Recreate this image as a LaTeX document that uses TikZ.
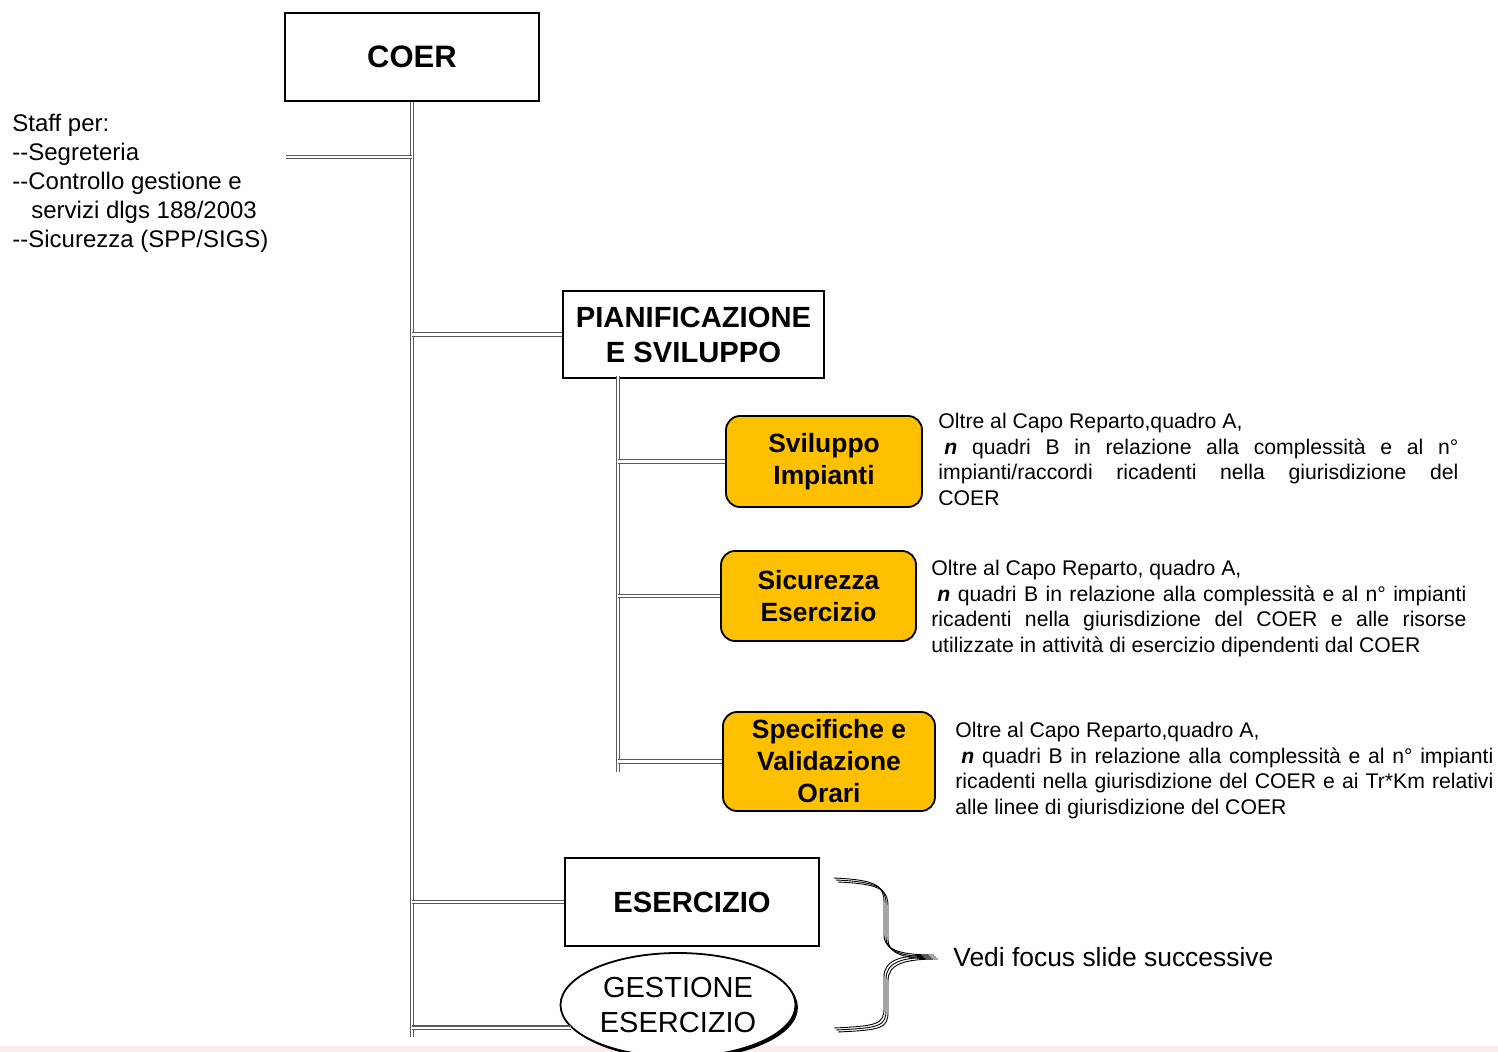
\documentclass[tikz,border=0pt]{standalone}
\usepackage{fontspec}
\setmainfont{Liberation Sans}[Ligatures=TeXOff]
\usetikzlibrary{shapes.geometric}
\usetikzlibrary{shadows}
\usepackage{xcolor}
\definecolor{cellyellow}{HTML}{FFC000}
\definecolor{stripbg}{RGB}{251,236,236}
\newcommand{\nq}{\textbf{\textit{n}}}
\newcommand{\loosepar}{\tolerance=10000\relax\hyphenpenalty=10000\relax}

\begin{document}
\begin{tikzpicture}[x=0.5pt,y=-0.5pt,
  dept/.style={draw,line width=0.9pt,inner sep=0pt,align=center,font=\bfseries\fontsize{14.6}{17.5}\selectfont},
  cell/.style={draw,line width=0.9pt,fill=cellyellow,rounded corners=7pt,inner sep=0pt,align=center,font=\bfseries\fontsize{13.2}{16}\selectfont},
  twin/.style={draw=black!65,double=white,double distance=1.1pt,line width=0.6pt},
  note/.style={anchor=north west,inner sep=0pt,align=justify,font=\fontsize{10.6}{12.75}\selectfont\loosepar}]
    \useasboundingbox (0,0) rectangle (1498,1052);
    \fill[stripbg] (0,1046) rectangle (1498,1052);

    \node[dept,minimum width=127pt,minimum height=44pt,font=\bfseries\fontsize{15.5}{18}\selectfont] (coer) at (412,57) {COER};
    \node[dept,minimum width=130.5pt,minimum height=43.5pt] (pianif) at (693.5,334.5) {PIANIFICAZIONE\\E SVILUPPO};
    \node[cell,minimum width=98pt,minimum height=45.5pt] (svil) at (824,461.5) {Sviluppo\\Impianti};
    \node[cell,minimum width=97.5pt,minimum height=45pt] (sicur) at (818.5,596) {Sicurezza\\Esercizio};
    \node[cell,minimum width=106pt,minimum height=49.5pt] (specif) at (829,761.5) {Specifiche e\\Validazione\\Orari};
    \node[dept,minimum width=127pt,minimum height=44pt] (eserc) at (692,902) {ESERCIZIO};
    \node[ellipse,draw,line width=0.9pt,fill=white,minimum width=117.5pt,minimum height=52pt,inner sep=0pt,align=center,
      font=\fontsize{14.5}{17.5}\selectfont,drop shadow={shadow xshift=1.2pt,shadow yshift=-1.2pt,fill=black,opacity=1}] (gest) at (678,1005) {GESTIONE\\ESERCIZIO};

    \node[anchor=north west,inner sep=0pt,align=left,font=\fontsize{12}{14.5}\selectfont] (staff) at (12,114)
      {Staff per:\\--Segreteria\\--Controllo gestione e\\\hspace*{9.5pt}servizi dlgs 188/2003\\--Sicurezza (SPP/SIGS)};

    \node[note,text width=260pt] (note1) at (938,413) {Oltre al Capo Reparto,quadro A,\\
      \hspace*{3pt}\nq{} quadri B in relazione alla complessità e al n°\linebreak
      impianti/raccordi ricadenti nella giurisdizione del\linebreak
      COER};
    \node[note,text width=267.5pt] (note2) at (931,560) {Oltre al Capo Reparto, quadro A,\\
      \hspace*{3pt}\nq{} quadri B in relazione alla complessità e al n° impianti\linebreak
      ricadenti nella giurisdizione del COER e alle risorse\linebreak
      utilizzate in attività di esercizio dipendenti dal COER};
    \node[note,text width=269pt] (note3) at (955,722) {Oltre al Capo Reparto,quadro A,\\
      \hspace*{3pt}\nq{} quadri B in relazione alla complessità e al n° impianti\linebreak
      ricadenti nella giurisdizione del COER e ai Tr*Km relativi\linebreak
      alle linee di giurisdizione del COER};

    \node[anchor=west,inner sep=0pt,font=\fontsize{13.2}{16}\selectfont] (vedi) at (953,957) {Vedi focus slide successive};

    \coordinate (trunkend) at (412,1037);
    \coordinate (stafftip) at (286,157);
    \coordinate (subtop) at (618,376);
    \coordinate (subend) at (618,772);

    \draw[twin] (coer.south) -- (trunkend);
    \draw[twin] (stafftip) -- (stafftip -| coer.south);
    \draw[twin] (pianif.west -| coer.south) -- (pianif.west);
    \draw[twin] (subtop) -- (subend);
    \foreach \n in {svil,sicur,specif}
        \draw[twin] (\n.west -| subtop) -- (\n.west);
    \draw[twin] (eserc.west -| coer.south) -- (eserc.west);
    \draw[twin] (gest.192 -| coer.south) -- (gest.192);

    \foreach \s in {0,2,4}
        \draw[line width=0.45pt,shift={(\s,\s)}] (834,878) .. controls (878,880) and (884,886) .. (884,903) -- (884,935)
          .. controls (884,950) and (900,955) .. (934,955) .. controls (900,955) and (884,960) .. (884,977) -- (884,1008)
          .. controls (884,1024) and (878,1026) .. (834,1028);
\end{tikzpicture}
\end{document}
